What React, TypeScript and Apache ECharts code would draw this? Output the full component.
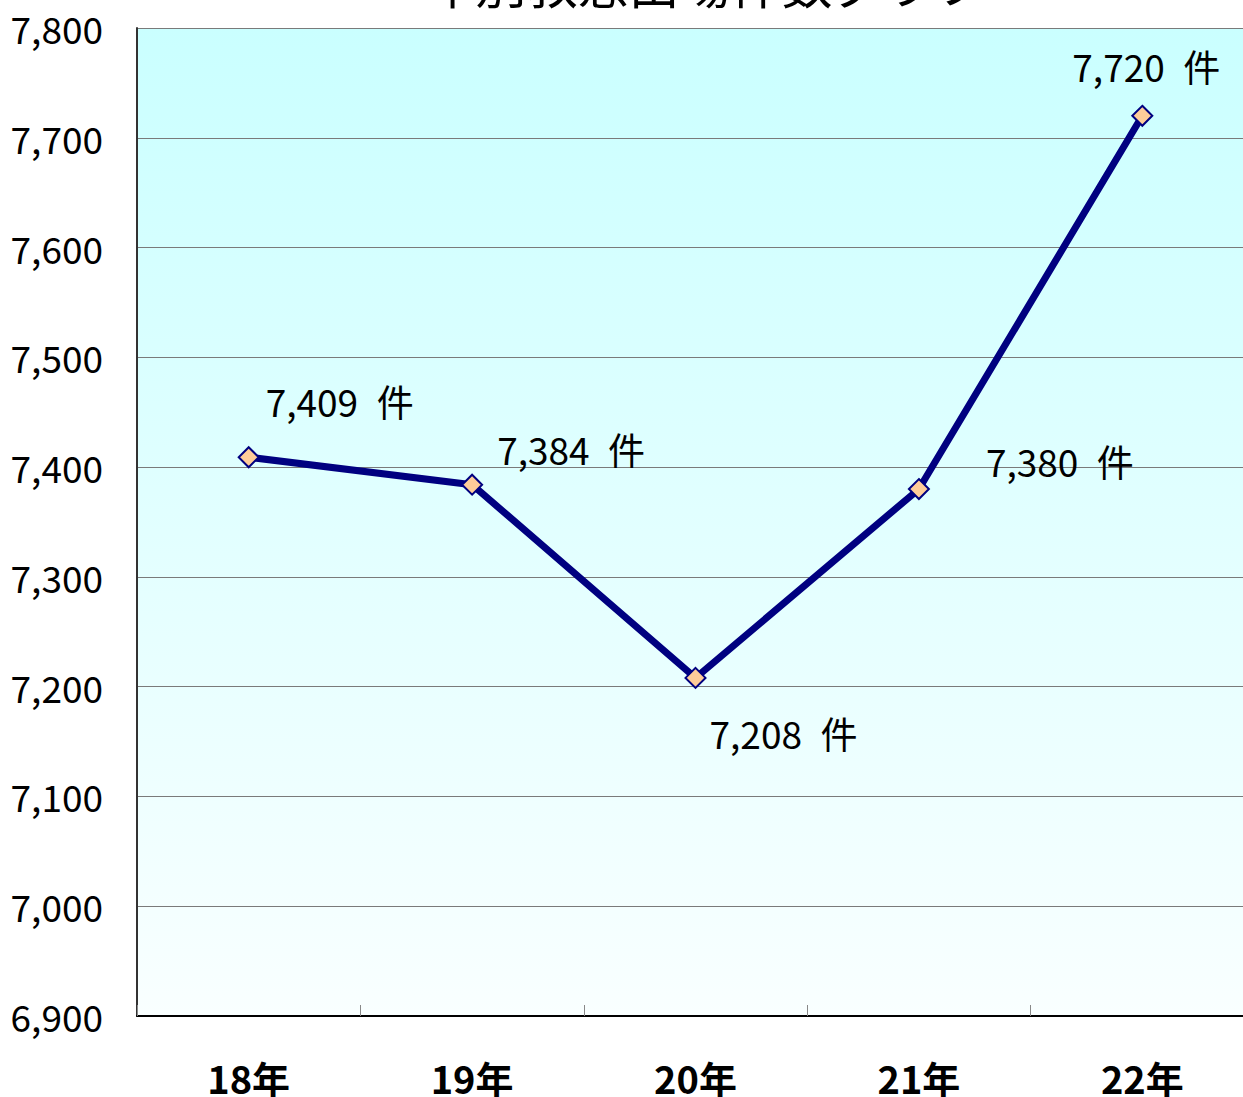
import React, { useEffect, useRef } from "react";
import * as echarts from "echarts";

const title = "年別救急出場件数グラフ";
const categories = ["18年", "19年", "20年", "21年", "22年"];
const values = [7409, 7384, 7208, 7380, 7720];
const yMin = 6900;
const yMax = 7800;
const yInterval = 100;
const unit = "件";

// label placement relative to each point (dx, dy of label centre), style only
const labelOffsets: [number, number][] = [
  [92, -55],
  [100, -35],
  [89, 56],
  [142, -27],
  [5, -49],
];

const SYMBOL = 20;

export default function App() {
  const ref = useRef<HTMLDivElement>(null);
  useEffect(() => {
    document.body.style.margin = "0";
    const chart = echarts.init(ref.current!, null, { renderer: "svg" });
    const fmt = (v: number) => v.toLocaleString("en-US");
    chart.setOption({
      animation: false,
      backgroundColor: "#ffffff",
      graphic: [
        {
          type: "text",
          x: 705,
          y: -18,
          z: 10,
          style: {
            text: title,
            align: "center",
            verticalAlign: "middle",
            fontSize: 51,
            fontFamily: "Noto Sans CJK JP",
            fill: "#000",
          },
        },
      ],
      grid: {
        left: 137,
        top: 28,
        right: 0,
        bottom: 81,
        show: true,
        borderWidth: 0,
        backgroundColor: new echarts.graphic.LinearGradient(0, 0, 0, 1, [
          { offset: 0, color: "#caffff" },
          { offset: 1, color: "#f9ffff" },
        ]),
      },
      xAxis: {
        type: "category",
        data: categories,
        boundaryGap: true,
        axisLine: { show: true, lineStyle: { color: "#000", width: 2 } },
        axisTick: {
          show: true,
          inside: true,
          length: 11,
          lineStyle: { color: "#888", width: 1 },
        },
        axisLabel: {
          margin: 44,
          fontSize: 38,
          lineHeight: 34,
          fontWeight: "bold",
          fontFamily: "Noto Sans CJK JP",
          color: "#000",
        },
        splitLine: { show: false },
      },
      yAxis: {
        type: "value",
        min: yMin,
        max: yMax,
        interval: yInterval,
        axisLine: { show: true, lineStyle: { color: "#333", width: 2 } },
        axisTick: { show: false },
        axisLabel: {
          margin: 34,
          fontSize: 37,
          fontFamily: "Noto Sans CJK JP",
          color: "#000",
          formatter: (v: number) => fmt(v),
        },
        splitLine: { show: true, lineStyle: { color: "#7a7a7a", width: 1 } },
      },
      series: [
        {
          type: "line",
          data: values.map((v, i) => ({
            value: v,
            label: {
              show: true,
              position: [labelOffsets[i][0] + SYMBOL / 2, labelOffsets[i][1] + SYMBOL / 2],
              align: "center",
              verticalAlign: "middle",
            },
          })),
          symbol: "diamond",
          symbolSize: SYMBOL,
          lineStyle: { color: "#000080", width: 7 },
          itemStyle: { color: "#ffcc99", borderColor: "#000080", borderWidth: 2 },
          label: {
            show: true,
            formatter: (p: any) => `${fmt(p.value)}\u2002${unit}`,
            fontSize: 37,
            fontFamily: "Noto Sans CJK JP",
            color: "#000",
          },
          z: 5,
        },
      ],
    });
    return () => chart.dispose();
  }, []);
  return (
    <div style={{ width: 1243, height: 1097, overflow: "hidden", position: "relative" }}>
      <div ref={ref} style={{ width: 1254, height: 1097 }} />
    </div>
  );
}
